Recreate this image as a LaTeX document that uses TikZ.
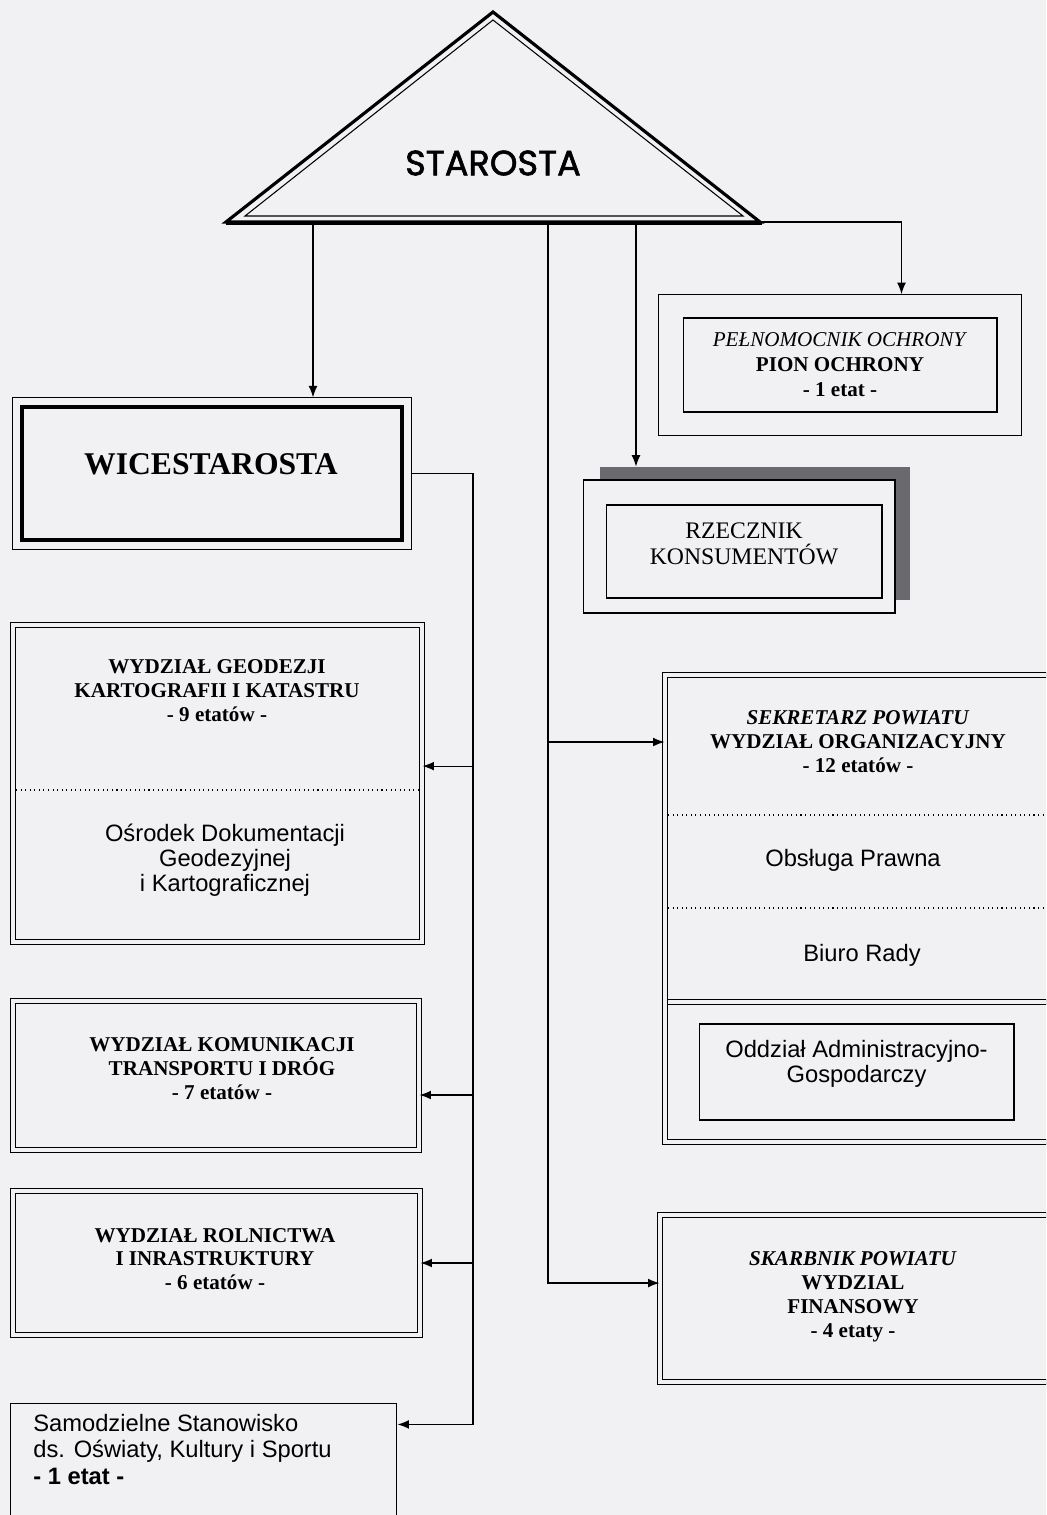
\documentclass[tikz,border=0pt]{standalone}
\usepackage{fontspec}
\setmainfont{Liberation Serif}
\setsansfont{Liberation Sans}
\newfontfamily\starfont{Poppins}[FakeBold=1.6]
\usetikzlibrary{arrows.meta,fit,positioning}

\definecolor{paper}{RGB}{241,241,244}
\definecolor{shade}{RGB}{105,105,110}

\tikzset{
  dbox/.style={draw, line width=0.6pt, double=paper, double distance=2pt, inner sep=0pt},
  sbox/.style={draw, line width=0.6pt, fill=paper, inner sep=0pt},
  arr/.style={-{Latex[length=6.5pt,width=5pt]}, line width=0.7pt},
  link/.style={line width=0.7pt},
  ttl/.style={font=\fontsize{12}{13.6}\selectfont\bfseries, align=center},
  sub/.style={font=\sffamily\fontsize{13.5}{14.2}\selectfont, align=center},
  sep/.style={dotted, line width=0.6pt}
}

\begin{document}
\begin{tikzpicture}[x=0.02cm,y=-0.02cm]
    % Page
    \fill[paper] (0,0) rectangle (1046,1515);
    \useasboundingbox (0,0) rectangle (1046,1515);
    \clip (0,0) rectangle (1046,1515);

    % Starosta
    \draw[line width=1.8pt, line join=miter] (493,12) -- (760,222) -- (226,222) -- cycle;
    \draw[line width=0.6pt] (493,20) -- (743,216) -- (245,216) -- cycle;
    \draw[line width=2.6pt] (226,223) -- (762,223);
    \node[font=\starfont\fontsize{20}{24}\selectfont] (star) at (493,163) {STAROSTA};
    \coordinate (tapW) at (313,222);
    \coordinate (tapS) at (548,222);
    \coordinate (tapR) at (636,222);
    \coordinate (tapP) at (760,222);

    % Wicestarosta
    \node[draw, line width=2.8pt, minimum width=7.6cm, minimum height=2.66cm] (wice) at (212,473.5) {};
    \node[draw, line width=0.6pt, fit=(wice), inner sep=3.8pt] (wiceout) {};
    \node[font=\fontsize{18}{20}\selectfont\bfseries] (wicet) at (211,464) {WICESTAROSTA};

    % Left departments
    \node[dbox, minimum width=8.18cm, minimum height=6.34cm] (geo) at (217.5,783.5) {};
    \node[ttl] (geot) at (217,691) {WYDZIAŁ GEODEZJI\\KARTOGRAFII I KATASTRU\\- 9 etatów -};
    \draw[sep] (16,790) -- (419,790);
    \node[sub] (geos) at (225,860) {Ośrodek Dokumentacji\\Geodezyjnej\\i Kartograficznej};

    \node[dbox, minimum width=8.12cm, minimum height=2.98cm] (kom) at (216,1075.5) {};
    \node[ttl] (komt) at (222,1069) {WYDZIAŁ KOMUNIKACJI\\TRANSPORTU I DRÓG\\- 7 etatów -};

    \node[dbox, minimum width=8.14cm, minimum height=2.88cm] (rol) at (216.5,1263) {};
    \node[ttl] (rolt) at (215,1259) {WYDZIAŁ ROLNICTWA\\I INRASTRUKTURY\\- 6 etatów -};

    \node[sbox, minimum width=7.74cm, minimum height=2.54cm] (sam) at (203.5,1466.5) {};
    \node[sub, font=\sffamily\fontsize{13.5}{15}\selectfont, align=left, anchor=north west, inner sep=0pt] (samt) at (33,1414) {Samodzielne Stanowisko\\ds. Oświaty, Kultury i Sportu\\\textbf{- 1 etat -}};

    % Pelnomocnik
    \node[sbox, minimum width=6.28cm, minimum height=1.88cm, font=\fontsize{12}{14.2}\selectfont, align=center] (pel) at (840,365) {\textit{PEŁNOMOCNIK OCHRONY}\\\textbf{PION OCHRONY}\\\textbf{- 1 etat -}};
    \node[draw, line width=0.6pt, fit=(pel), inner xsep=13.5pt, inner ysep=13pt] (pelout) {};

    % Rzecznik
    \node[fill=shade, minimum width=6.2cm, minimum height=2.66cm, inner sep=0pt] (rzesh) at (755,533.5) {};
    \node[sbox, minimum width=6.24cm, minimum height=2.66cm] (rzeout) at (739,546.5) {};
    \node[sbox, minimum width=5.52cm, minimum height=1.86cm] (rze) at (744,551.5) {};
    \node[align=center, font=\fontsize{13.5}{14.8}\selectfont] (rzet) at (744,544) {RZECZNIK\\KONSUMENTÓW};

    % Sekretarz
    \node[dbox, minimum width=8.2cm, minimum height=9.34cm] (sek) at (870,908.5) {};
    \node[ttl] (sekt) at (858,742) {\textit{SEKRETARZ POWIATU}\\WYDZIAŁ ORGANIZACYJNY\\- 12 etatów -};
    \draw[sep] (668,815) -- (1046,815);
    \draw[sep] (668,908) -- (1046,908);
    \draw[line width=0.6pt, double=paper, double distance=2pt] (668,1002) -- (1070,1002);
    \node[sub] (obs) at (853,860) {Obsługa Prawna};
    \node[sub] (biu) at (862,955) {Biuro Rady};
    \node[sbox, minimum width=6.3cm, minimum height=1.92cm] (odd) at (856.5,1072) {};
    \node[sub] (oddt) at (856.5,1064) {Oddział Administracyjno-\\Gospodarczy};

    % Skarbnik
    \node[dbox, minimum width=8.3cm, minimum height=3.34cm] (ska) at (867.5,1298.5) {};
    \node[ttl] (skat) at (853,1297) {\textit{SKARBNIK POWIATU}\\WYDZIAL\\FINANSOWY\\- 4 etaty -};

    % Starosta links
    \draw[arr] (tapW) -- (tapW |- wiceout.north);
    \draw[arr] (tapR) -- (tapR |- rzesh.north);
    \coordinate (pelin) at ([xshift=35pt]pelout.north);
    \draw[arr] (tapP) -| (pelin);
    \coordinate (skain) at ([yshift=8.8pt]ska.west);
    \draw[arr] (tapS) |- (skain);
    \draw[arr] (tapS |- sekt) -- (sek.west |- sekt);

    % Wicestarosta links
    \coordinate (spine) at (473,1425);
    \draw[link] (wiceout.east) -| (spine);
    \coordinate (geoin) at ([yshift=9.9pt]geo.east);
    \coordinate (komin) at ([yshift=-11.1pt]kom.east);
    \coordinate (samin) at ([yshift=-12.5pt]sam.north east);
    \foreach \t in {geoin,komin,rol.east,samin}
        \draw[arr] (spine |- \t) -- (\t);
\end{tikzpicture}
\end{document}
